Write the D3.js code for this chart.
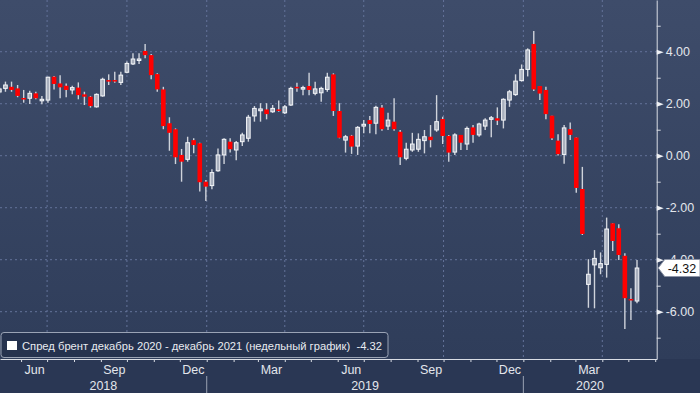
<!DOCTYPE html>
<html>
<head>
<meta charset="utf-8">
<script src="https://cdn.jsdelivr.net/npm/d3@7"></script>
<style>
  body { margin: 0; background: #2a3754; }
  svg { display: block; font-family: "Liberation Sans", Arial, sans-serif; }
</style>
</head>
<body>
<div id="chart"></div>
<script>
// weekly candles (week start dates)
var weeks = [
  "2018-05-07","2018-05-14","2018-05-21","2018-05-28","2018-06-04","2018-06-11","2018-06-18","2018-06-25",
  "2018-07-02","2018-07-09","2018-07-16","2018-07-23","2018-07-30","2018-08-06","2018-08-13","2018-08-20",
  "2018-08-27","2018-09-03","2018-09-10","2018-09-17","2018-09-24","2018-10-01","2018-10-08","2018-10-15",
  "2018-10-22","2018-10-29","2018-11-05","2018-11-12","2018-11-19","2018-11-26","2018-12-03","2018-12-10",
  "2018-12-17","2018-12-24","2018-12-31","2019-01-07","2019-01-14","2019-01-21","2019-01-28","2019-02-04",
  "2019-02-11","2019-02-18","2019-02-25","2019-03-04","2019-03-11","2019-03-18","2019-03-25","2019-04-01",
  "2019-04-08","2019-04-15","2019-04-22","2019-04-29","2019-05-06","2019-05-13","2019-05-20","2019-05-27",
  "2019-06-03","2019-06-10","2019-06-17","2019-06-24","2019-07-01","2019-07-08","2019-07-15","2019-07-22",
  "2019-07-29","2019-08-05","2019-08-12","2019-08-19","2019-08-26","2019-09-02","2019-09-09","2019-09-16",
  "2019-09-23","2019-09-30","2019-10-07","2019-10-14","2019-10-21","2019-10-28","2019-11-04","2019-11-11",
  "2019-11-18","2019-11-25","2019-12-02","2019-12-09","2019-12-16","2019-12-23","2019-12-30","2020-01-06",
  "2020-01-13","2020-01-20","2020-01-27","2020-02-03","2020-02-10","2020-02-17","2020-02-24","2020-03-02",
  "2020-03-09","2020-03-16","2020-03-23","2020-03-30","2020-04-06","2020-04-13","2020-04-20","2020-04-27",
  "2020-05-04","2020-05-11"
];

var opens = [
  2.45,2.59,2.65,2.59,2.22,2.21,2.40,2.12,2.14,3.04,
  2.78,2.69,2.53,2.62,2.36,2.27,1.88,2.30,2.91,2.91,
  2.82,3.21,3.53,3.68,4.03,3.87,3.14,2.55,1.25,1.02,
  0.03,-0.14,0.60,0.48,-1.00,-1.15,-0.58,0.03,0.54,0.22,
  0.54,0.67,1.53,1.73,1.78,1.69,1.78,1.65,1.95,2.65,
  2.57,2.68,2.40,2.42,2.55,3.13,1.72,0.60,0.77,0.37,
  1.14,1.37,1.25,1.85,1.14,1.31,0.92,-0.10,0.22,0.25,
  0.58,0.73,0.99,1.41,0.76,0.14,0.80,0.45,1.09,0.80,
  1.14,1.40,1.44,1.37,2.14,2.35,2.89,3.32,4.30,2.68,
  2.53,1.54,0.58,0.05,1.02,0.70,-1.28,-4.95,-4.20,-4.31,
  -4.18,-2.60,-2.79,-3.85,-5.51,-5.59
];

var closes = [
  2.57,2.72,2.53,2.30,2.19,2.40,2.21,2.17,3.02,2.76,
  2.63,2.53,2.62,2.33,2.27,1.91,2.36,2.94,2.85,2.87,
  3.10,3.55,3.72,3.72,3.87,3.10,2.55,1.14,0.88,-0.06,
  -0.23,0.50,0.41,-1.02,-1.19,-0.65,0.03,0.63,0.25,0.50,
  0.80,1.48,1.82,1.80,1.60,1.82,1.73,1.88,2.59,2.59,
  2.62,2.53,2.57,2.59,3.02,1.72,0.69,0.73,0.35,1.09,
  1.21,1.22,1.86,1.02,1.37,1.02,-0.06,0.25,0.45,0.63,
  0.73,0.60,1.31,0.76,0.12,0.80,0.50,1.05,0.80,1.22,
  1.37,1.46,1.35,2.17,2.46,2.87,3.32,4.07,2.55,2.39,
  1.60,0.67,0.06,1.07,0.80,-1.24,-3.01,-4.56,-3.95,-4.15,
  -2.82,-3.28,-3.82,-5.48,-5.56,-4.32
];

var highs = [
  2.64,2.85,2.85,2.72,2.53,2.50,2.46,2.30,3.04,3.07,
  3.10,2.78,2.69,2.82,2.46,2.30,2.40,3.00,3.13,3.23,
  3.23,3.62,3.94,3.94,4.30,3.91,3.17,2.65,1.48,1.05,
  0.26,0.73,0.67,0.50,-0.93,-0.52,0.28,0.67,0.67,0.57,
  0.88,1.57,1.91,2.02,2.02,1.95,2.12,1.95,2.65,2.81,
  2.69,3.19,2.85,2.65,3.19,3.17,2.02,0.80,0.80,1.14,
  1.37,1.53,1.92,1.95,1.65,2.21,0.99,0.50,0.88,0.86,
  0.99,1.18,2.33,1.50,0.80,0.86,0.80,1.12,1.18,1.27,
  1.44,1.53,1.86,2.21,2.53,3.13,3.51,4.13,4.80,2.68,
  2.65,1.54,0.83,1.18,1.28,0.70,-0.43,-3.98,-3.63,-3.72,
  -2.38,-2.60,-2.64,-3.75,-5.10,-4.01
];

var lows = [
  2.37,2.46,2.46,2.25,2.04,1.99,2.17,1.98,2.04,2.55,
  2.21,2.25,2.36,2.17,1.95,1.85,1.85,2.27,2.72,2.81,
  2.72,3.17,3.49,3.53,3.75,2.94,2.46,1.02,0.19,-0.32,
  -1.00,-0.23,0.09,-1.38,-1.74,-1.29,-0.62,-0.32,0.12,-0.17,
  0.37,0.54,1.31,1.31,1.40,1.65,1.69,1.60,1.91,2.46,
  2.33,2.33,2.33,2.08,2.46,1.53,0.67,0.12,0.07,0.03,
  0.86,0.86,0.83,0.96,0.99,0.96,-0.36,-0.17,0.15,0.15,
  0.09,0.32,0.92,0.45,-0.23,0.03,0.22,0.22,0.50,0.73,
  0.99,0.71,1.18,1.05,1.88,2.30,2.85,3.05,2.49,2.14,
  1.40,0.60,0.01,-0.31,0.60,-1.42,-3.05,-5.85,-5.87,-4.56,
  -4.69,-3.67,-4.01,-6.67,-6.32,-5.68
];

// axis labels
var yTicks = [-6, -4, -2, 0, 2, 4];
var yMinor = [-7, -5, -3, -1, 1, 3, 5];
var monthTicks = ["2018-06-16","2018-09-16","2018-12-16","2019-03-16","2019-06-16","2019-09-16","2019-12-16","2020-03-16"];
var years = ["2018", "2019", "2020"];
var yearStarts = ["2019-01-01", "2020-01-01"];
var lastValue = -4.32;
var legendText = "Спред брент декабрь 2020 - декабрь 2021 (недельный график)  -4.32";

var parse = d3.timeParse("%Y-%m-%d");

// set the dimensions of the plot area
var width = 656.7,
    height = 359;

var svg = d3.select("#chart")
  .append("svg")
    .attr("width", 700)
    .attr("height", 393);

// background
var grad = svg.append("defs").append("linearGradient")
    .attr("id", "bg").attr("x1", 0).attr("y1", 0).attr("x2", 0).attr("y2", 1);
grad.append("stop").attr("offset", "0%").attr("stop-color", "#3e4c6a");
grad.append("stop").attr("offset", "100%").attr("stop-color", "#2f3d5a");
svg.append("rect").attr("width", 700).attr("height", height).attr("fill", "url(#bg)");
svg.append("rect").attr("y", height).attr("width", 700).attr("height", 393 - height).attr("fill", "#2a3754");

// scales
var x = d3.scaleTime()
  .domain([new Date(2018, 4, 7, 17), new Date(2020, 5, 2, 17)])
  .range([0, width]);

var y = d3.scaleLinear()
  .domain([-7.82, 5.99])
  .range([height, 0]);

// grid
svg.append("g")
  .selectAll("line")
  .data(yTicks)
  .enter()
  .append("line")
    .attr("x1", 0).attr("x2", width)
    .attr("y1", function (d) { return y(d); })
    .attr("y2", function (d) { return y(d); })
    .attr("stroke", "#64739a")
    .attr("stroke-dasharray", "2,3");

svg.append("g")
  .selectAll("line")
  .data(x.ticks(d3.timeMonth.every(3)))
  .enter()
  .append("line")
    .attr("y1", 0).attr("y2", height)
    .attr("x1", function (d) { return x(d); })
    .attr("x2", function (d) { return x(d); })
    .attr("stroke", "#64739a")
    .attr("stroke-dasharray", "2,3");

// candles
var data = weeks.map(function (w, i) {
  return { date: parse(w), o: opens[i], h: highs[i], l: lows[i], c: closes[i] };
});

var candles = svg.append("g")
  .selectAll("g")
  .data(data)
  .enter()
  .append("g");

candles.append("line")
    .attr("x1", function (d) { return x(d.date); })
    .attr("x2", function (d) { return x(d.date); })
    .attr("y1", function (d) { return y(d.h); })
    .attr("y2", function (d) { return y(d.l); })
    .attr("stroke", "#cfd3db")
    .attr("stroke-width", 1.4);

candles.append("rect")
    .attr("x", function (d) { return x(d.date) - (d.c >= d.o ? 1.8 : 2.3); })
    .attr("width", function (d) { return d.c >= d.o ? 3.6 : 4.6; })
    .attr("y", function (d) { return y(Math.max(d.o, d.c)); })
    .attr("height", function (d) { return Math.max(1.5, Math.abs(y(d.o) - y(d.c))); })
    .attr("fill", function (d) { return d.c >= d.o ? "#a9b0be" : "#ff0000"; })
    .attr("stroke", function (d) { return d.c >= d.o ? "#f4f6f9" : "none"; })
    .attr("stroke-width", 1);

// x axis: month ticks
var xAxis = svg.append("g")
    .attr("transform", "translate(0," + height + ")")
    .call(d3.axisBottom(x).ticks(d3.timeMonth.every(1)).tickFormat("").tickSizeInner(3).tickSizeOuter(0));
xAxis.selectAll("path, line").attr("stroke", "#d9dde5");

// month labels
var xLabels = svg.append("g")
    .attr("transform", "translate(0," + height + ")")
    .call(d3.axisBottom(x)
      .tickValues(monthTicks.map(parse))
      .tickFormat(d3.timeFormat("%b"))
      .tickSize(0).tickPadding(6));
xLabels.select(".domain").remove();
xLabels.selectAll("text")
    .attr("fill", "#e3e6ec")
    .style("font-size", "12.5px")
    .style("font-family", "Liberation Sans, Arial, sans-serif");

// year labels and separators
var bounds = [0].concat(yearStarts.map(function (d) { return x(parse(d)); }), [width]);
svg.append("g")
  .selectAll("line")
  .data(yearStarts)
  .enter()
  .append("line")
    .attr("x1", function (d) { return x(parse(d)); })
    .attr("x2", function (d) { return x(parse(d)); })
    .attr("y1", 376).attr("y2", 393)
    .attr("stroke", "#9aa2b3");

svg.append("g")
  .selectAll("text")
  .data(years)
  .enter()
  .append("text")
    .attr("x", function (d, i) { return (bounds[i] + bounds[i + 1]) / 2; })
    .attr("y", 390)
    .attr("text-anchor", "middle")
    .attr("fill", "#e3e6ec")
    .style("font-size", "12.5px")
    .text(function (d) { return d; });

// y axis on the right
var yAxis = svg.append("g")
    .attr("transform", "translate(" + width + ",0)")
    .call(d3.axisRight(y).tickValues(yTicks)
      .tickFormat(function (d) { return d.toFixed(2); })
      .tickSize(0).tickSizeOuter(0).tickPadding(9));
yAxis.select(".domain").attr("stroke", "#d9dde5");
yAxis.selectAll(".tick text")
    .attr("fill", "#e3e6ec")
    .style("font-size", "12.5px")
    .style("font-family", "Liberation Sans, Arial, sans-serif");
yAxis.selectAll(".tick").append("path")
    .attr("d", "M0,-2.6L7,0L0,2.6Z")
    .attr("fill", "#eef0f4");

var yMinorAxis = svg.append("g")
    .attr("transform", "translate(" + width + ",0)")
    .call(d3.axisRight(y).tickValues(yMinor).tickFormat("").tickSize(4).tickSizeOuter(0));
yMinorAxis.select(".domain").remove();
yMinorAxis.selectAll("line").attr("stroke", "#d9dde5");

// legend
svg.append("rect")
    .attr("x", 1).attr("y", 332.5)
    .attr("width", 387).attr("height", 25)
    .attr("rx", 3)
    .attr("fill", "#25324e")
    .attr("stroke", "#9aa3b5");
svg.append("rect")
    .attr("x", 7).attr("y", 341)
    .attr("width", 10).attr("height", 9)
    .attr("fill", "#ffffff");
svg.append("text")
    .attr("x", 22).attr("y", 350)
    .attr("fill", "#e8ebf0")
    .style("font-size", "11.2px")
    .style("white-space", "pre")
    .text(legendText);

// last value callout
var ly = y(lastValue);
svg.append("path")
    .attr("d", "M" + (width + 1.5) + "," + ly + "L" + (width + 8) + "," + (ly - 8.5) +
               "H700V" + (ly + 8.5) + "H" + (width + 8) + "Z")
    .attr("fill", "#ffffff")
    .attr("stroke", "#8c94a6");
svg.append("text")
    .attr("x", width + 11).attr("y", ly + 4.5)
    .attr("fill", "#111111")
    .style("font-size", "12.5px")
    .text(lastValue.toFixed(2));
</script>
</body>
</html>
